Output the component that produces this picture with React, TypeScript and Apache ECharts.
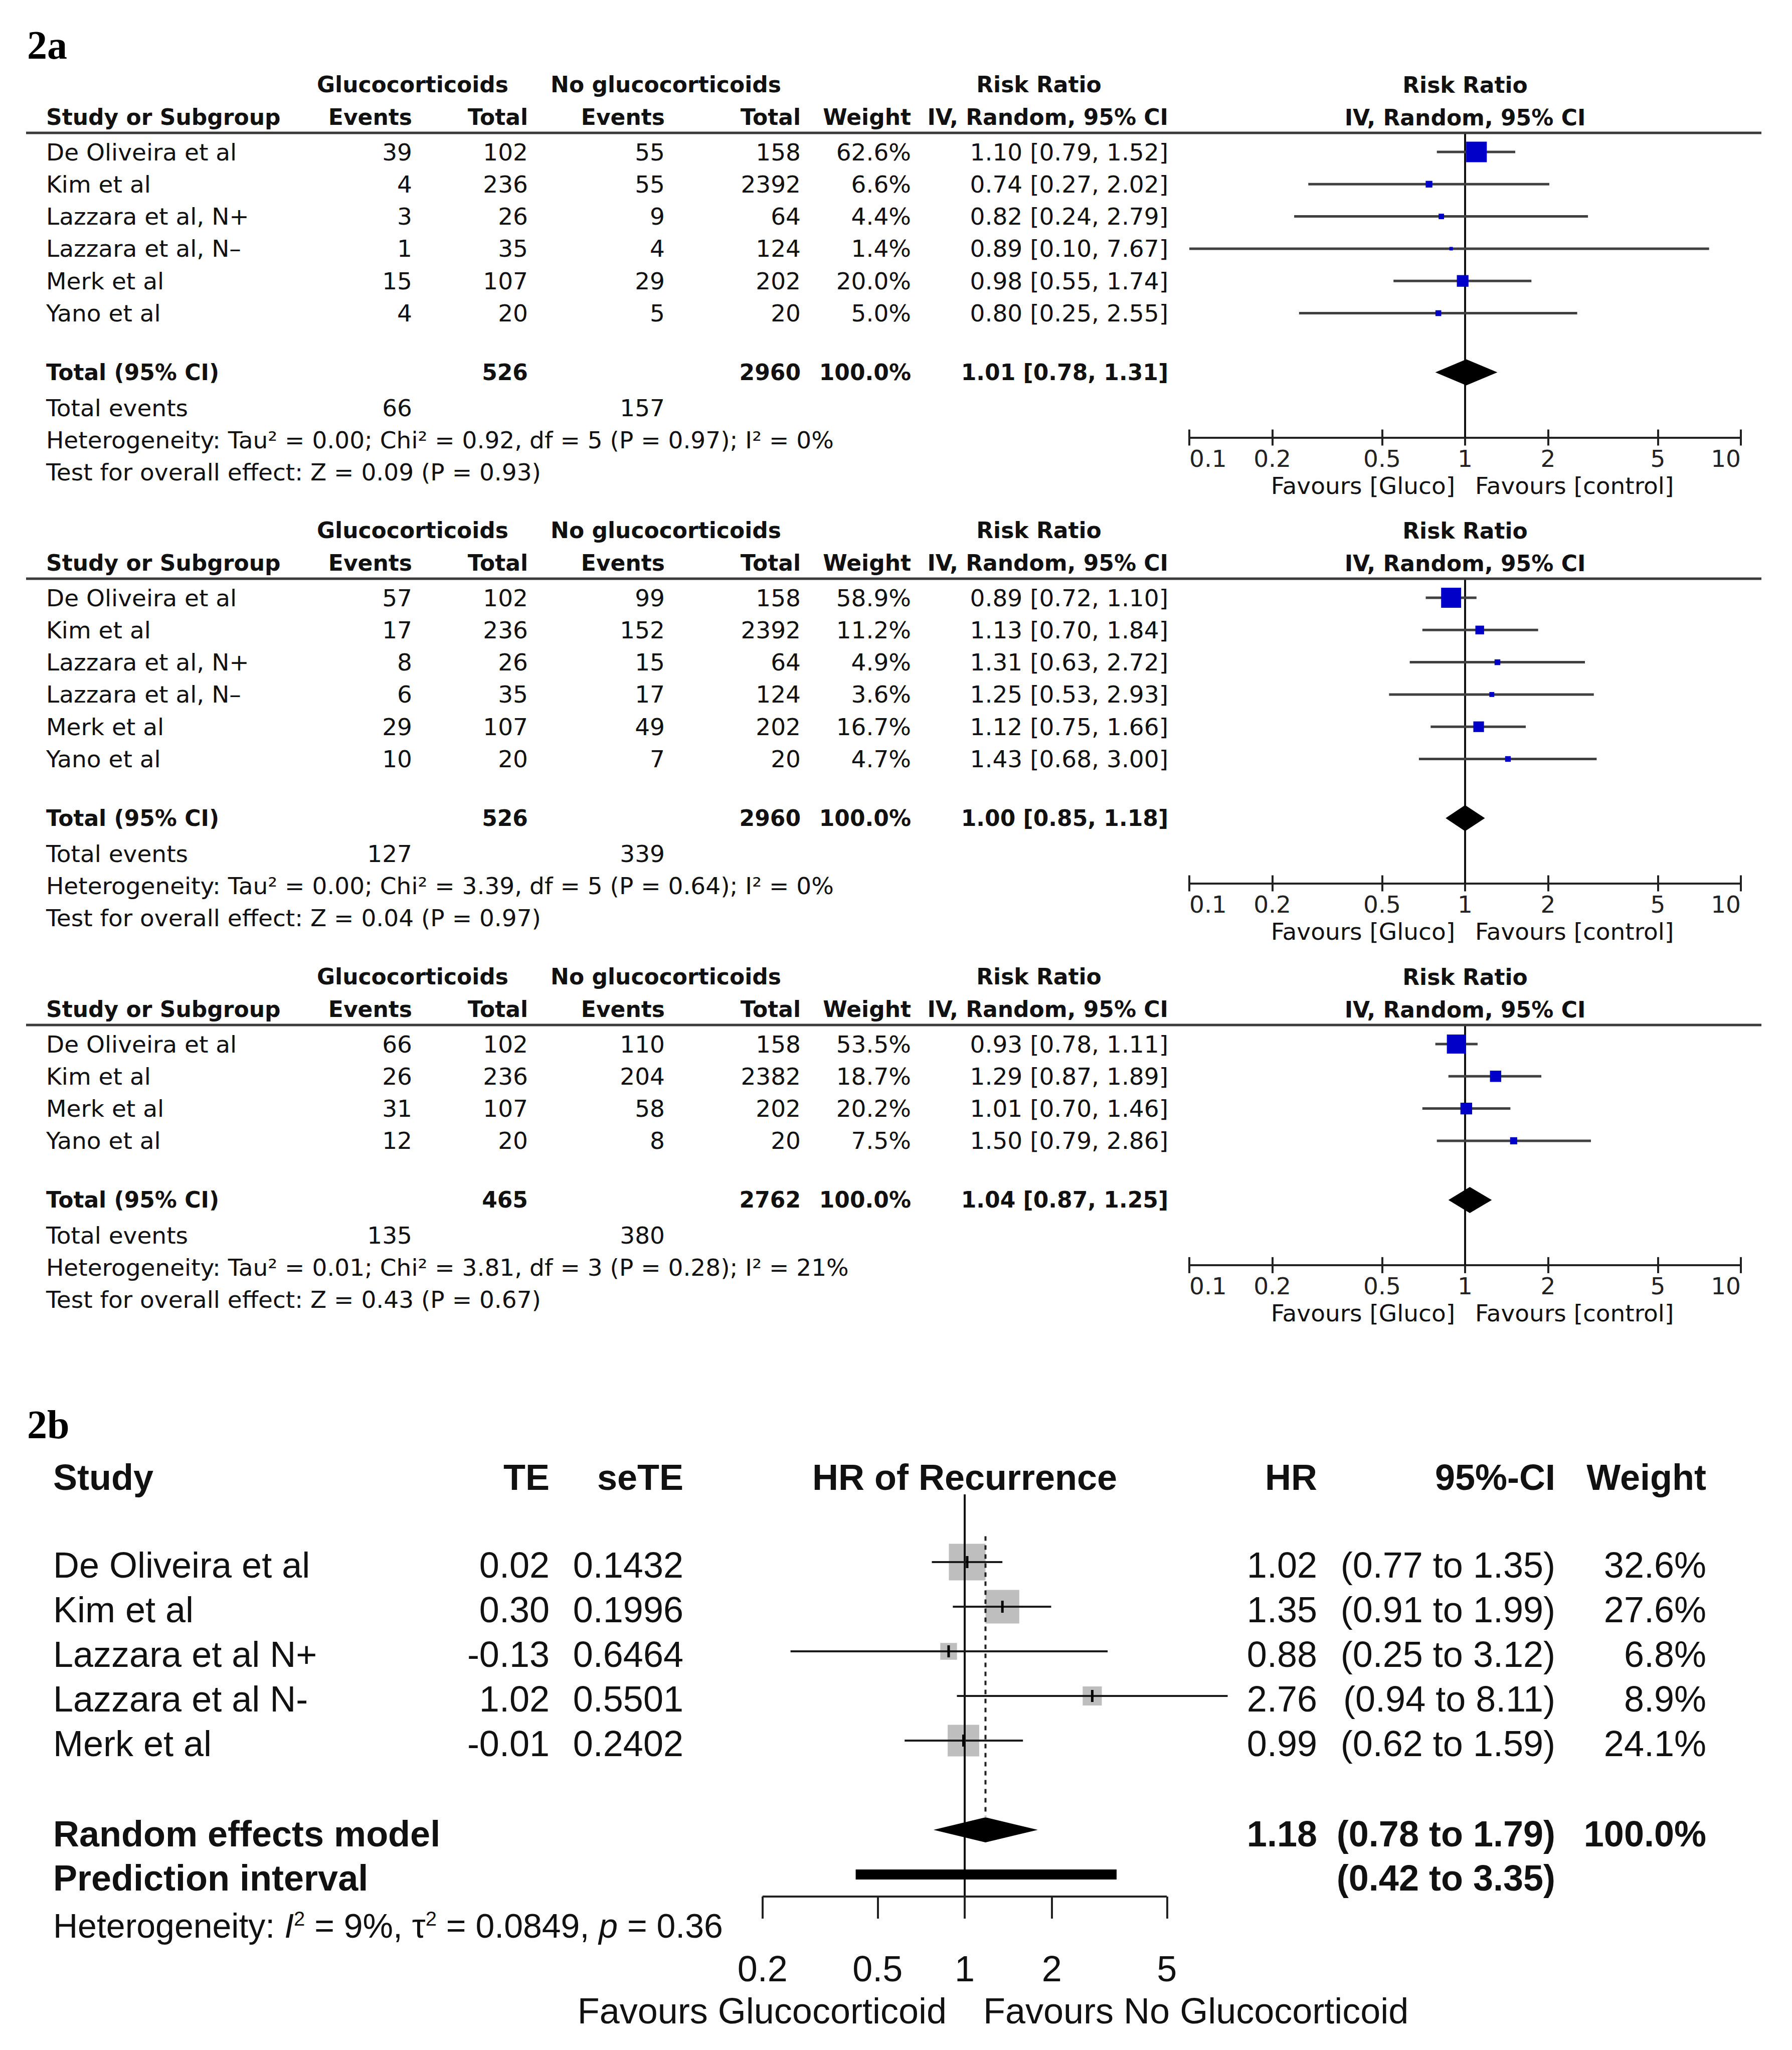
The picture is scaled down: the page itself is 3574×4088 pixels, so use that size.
import React, { useEffect, useRef } from 'react';
import * as echarts from 'echarts';

const W = 3574;
const H = 4088;

// ---------------- 2a : first analysis ----------------
const A1_STUDY = ['De Oliveira et al', 'Kim et al', 'Lazzara et al, N+', 'Lazzara et al, N–', 'Merk et al', 'Yano et al'];
const A1_EV_G = [39, 4, 3, 1, 15, 4];
const A1_TOT_G = [102, 236, 26, 35, 107, 20];
const A1_EV_C = [55, 55, 9, 4, 29, 5];
const A1_TOT_C = [158, 2392, 64, 124, 202, 20];
const A1_WEIGHT = [62.6, 6.6, 4.4, 1.4, 20.0, 5.0];
const A1_RR = [1.10, 0.74, 0.82, 0.89, 0.98, 0.80];
const A1_LO = [0.79, 0.27, 0.24, 0.10, 0.55, 0.25];
const A1_HI = [1.52, 2.02, 2.79, 7.67, 1.74, 2.55];
const A1_TOTALS = [526, 2960];
const A1_POOLED = [1.01, 0.78, 1.31];
const A1_EVENTS = [66, 157];
const A1_HET = ['0.00', '0.92', '5', '0.97', '0%'];
const A1_Z = ['0.09', '0.93'];

// ---------------- 2a : second analysis ----------------
const A2_STUDY = ['De Oliveira et al', 'Kim et al', 'Lazzara et al, N+', 'Lazzara et al, N–', 'Merk et al', 'Yano et al'];
const A2_EV_G = [57, 17, 8, 6, 29, 10];
const A2_TOT_G = [102, 236, 26, 35, 107, 20];
const A2_EV_C = [99, 152, 15, 17, 49, 7];
const A2_TOT_C = [158, 2392, 64, 124, 202, 20];
const A2_WEIGHT = [58.9, 11.2, 4.9, 3.6, 16.7, 4.7];
const A2_RR = [0.89, 1.13, 1.31, 1.25, 1.12, 1.43];
const A2_LO = [0.72, 0.70, 0.63, 0.53, 0.75, 0.68];
const A2_HI = [1.10, 1.84, 2.72, 2.93, 1.66, 3.00];
const A2_TOTALS = [526, 2960];
const A2_POOLED = [1.00, 0.85, 1.18];
const A2_EVENTS = [127, 339];
const A2_HET = ['0.00', '3.39', '5', '0.64', '0%'];
const A2_Z = ['0.04', '0.97'];

// ---------------- 2a : third analysis ----------------
const A3_STUDY = ['De Oliveira et al', 'Kim et al', 'Merk et al', 'Yano et al'];
const A3_EV_G = [66, 26, 31, 12];
const A3_TOT_G = [102, 236, 107, 20];
const A3_EV_C = [110, 204, 58, 8];
const A3_TOT_C = [158, 2382, 202, 20];
const A3_WEIGHT = [53.5, 18.7, 20.2, 7.5];
const A3_RR = [0.93, 1.29, 1.01, 1.50];
const A3_LO = [0.78, 0.87, 0.70, 0.79];
const A3_HI = [1.11, 1.89, 1.46, 2.86];
const A3_TOTALS = [465, 2762];
const A3_POOLED = [1.04, 0.87, 1.25];
const A3_EVENTS = [135, 380];
const A3_HET = ['0.01', '3.81', '3', '0.28', '21%'];
const A3_Z = ['0.43', '0.67'];

const A_TICKS = [0.1, 0.2, 0.5, 1, 2, 5, 10];

// ---------------- 2b ----------------
const B_STUDY = ['De Oliveira et al', 'Kim et al', 'Lazzara et al N+', 'Lazzara et al N-', 'Merk et al'];
const B_TE = [0.02, 0.30, -0.13, 1.02, -0.01];
const B_SETE = [0.1432, 0.1996, 0.6464, 0.5501, 0.2402];
const B_HR = [1.02, 1.35, 0.88, 2.76, 0.99];
const B_LO = [0.77, 0.91, 0.25, 0.94, 0.62];
const B_HI = [1.35, 1.99, 3.12, 8.11, 1.59];
const B_WEIGHT = [32.6, 27.6, 6.8, 8.9, 24.1];
const B_RANDOM = [1.18, 0.78, 1.79];
const B_PRED = [0.42, 3.35];
const B_HET = ['9%', '0.0849', '0.36'];
const B_TICKS = [0.2, 0.5, 1, 2, 5];

const PANELS = [
  { study: A1_STUDY, evG: A1_EV_G, totG: A1_TOT_G, evC: A1_EV_C, totC: A1_TOT_C, w: A1_WEIGHT, rr: A1_RR, lo: A1_LO, hi: A1_HI, totals: A1_TOTALS, pooled: A1_POOLED, events: A1_EVENTS, het: A1_HET, z: A1_Z },
  { study: A2_STUDY, evG: A2_EV_G, totG: A2_TOT_G, evC: A2_EV_C, totC: A2_TOT_C, w: A2_WEIGHT, rr: A2_RR, lo: A2_LO, hi: A2_HI, totals: A2_TOTALS, pooled: A2_POOLED, events: A2_EVENTS, het: A2_HET, z: A2_Z },
  { study: A3_STUDY, evG: A3_EV_G, totG: A3_TOT_G, evC: A3_EV_C, totC: A3_TOT_C, w: A3_WEIGHT, rr: A3_RR, lo: A3_LO, hi: A3_HI, totals: A3_TOTALS, pooled: A3_POOLED, events: A3_EVENTS, het: A3_HET, z: A3_Z },
];

// ---------------- layout ----------------
const FONT_A = '"DejaVu Sans", sans-serif';
const FONT_B = '"Liberation Sans", Arial, sans-serif';
const SERIF = '"Liberation Serif", "Times New Roman", serif';
const TXT = '#111';
const SA = 47; // regular size 2a
const SAB = 44; // bold size 2a
const SB = 72; // size 2b
const PANEL_TOP = [168, 1057, 1947];
const ROW = 64.3;
const FA_X0 = 2372;
const FA_X1 = 3472;
const ONE_X = (FA_X0 + FA_X1) / 2;

const lg = (v: number) => (v === 0.1 ? -1 : v === 10 ? 1 : Math.log10(v));
const fmtTick = (ticks: number[]) => (v: number) => {
  let best = ticks[0];
  for (const t of ticks) if (Math.abs(lg(t) - v) < Math.abs(lg(best) - v)) best = t;
  return String(best);
};

function tx(x: number, y: number, text: string, o: any = {}) {
  const size = o.s ?? SA;
  const fam = o.f ?? FONT_A;
  const align = o.a ?? 'left';
  return {
    type: 'text', x, y, silent: true, z: 10,
    style: {
      text, fill: o.c ?? TXT,
      font: `${o.i ? 'italic ' : ''}${o.b ? 'bold ' : ''}${size}px ${fam}`,
      align, verticalAlign: 'middle', textAlign: align, textVerticalAlign: 'middle',
    },
  };
}

const f2 = (v: number) => v.toFixed(2);

function buildOption() {
  const grid: any[] = [];
  const xAxis: any[] = [];
  const yAxis: any[] = [];
  const series: any[] = [];
  const g: any[] = [];

  g.push(tx(54, 90, '2a', { f: SERIF, b: true, s: 80, c: '#000' }));

  PANELS.forEach((p, k) => {
    const P = PANEL_TOP[k];
    const n = p.study.length;
    const rowY = (v: number) => P + 135 + ROW * v;
    const vTop = -38 / ROW;
    const vTot = n - 1 + 118 / ROW;
    const vAxis = vTot + 130 / ROW;
    const yTot = rowY(vTot);
    const yAx = rowY(vAxis);

    // header
    g.push(tx(823, P, 'Glucocorticoids', { b: true, a: 'center', s: SAB }));
    g.push(tx(1328, P, 'No glucocorticoids', { b: true, a: 'center', s: SAB }));
    g.push(tx(2072, P, 'Risk Ratio', { b: true, a: 'center', s: SAB }));
    g.push(tx(ONE_X, P + 1, 'Risk Ratio', { b: true, a: 'center', s: SAB }));
    const h2 = P + 65;
    g.push(tx(92, h2, 'Study or Subgroup', { b: true, s: SAB }));
    g.push(tx(822, h2, 'Events', { b: true, a: 'right', s: SAB }));
    g.push(tx(1053, h2, 'Total', { b: true, a: 'right', s: SAB }));
    g.push(tx(1326, h2, 'Events', { b: true, a: 'right', s: SAB }));
    g.push(tx(1597, h2, 'Total', { b: true, a: 'right', s: SAB }));
    g.push(tx(1817, h2, 'Weight', { b: true, a: 'right', s: SAB }));
    g.push(tx(2330, h2, 'IV, Random, 95% CI', { b: true, a: 'right', s: SAB }));
    g.push(tx(ONE_X, h2 + 1, 'IV, Random, 95% CI', { b: true, a: 'center', s: SAB }));
    g.push({ type: 'line', silent: true, z: 5, shape: { x1: 52, y1: P + 97, x2: 3513, y2: P + 97 }, style: { stroke: '#3a3a3a', lineWidth: 5 } });

    // study rows
    p.study.forEach((s, i) => {
      const y = rowY(i);
      g.push(tx(92, y, s));
      g.push(tx(822, y, String(p.evG[i]), { a: 'right' }));
      g.push(tx(1053, y, String(p.totG[i]), { a: 'right' }));
      g.push(tx(1326, y, String(p.evC[i]), { a: 'right' }));
      g.push(tx(1597, y, String(p.totC[i]), { a: 'right' }));
      g.push(tx(1817, y, p.w[i].toFixed(1) + '%', { a: 'right' }));
      g.push(tx(2330, y, `${f2(p.rr[i])} [${f2(p.lo[i])}, ${f2(p.hi[i])}]`, { a: 'right' }));
    });

    // totals
    g.push(tx(92, yTot, 'Total (95% CI)', { b: true, s: SAB }));
    g.push(tx(1053, yTot, String(p.totals[0]), { b: true, a: 'right', s: SAB }));
    g.push(tx(1597, yTot, String(p.totals[1]), { b: true, a: 'right', s: SAB }));
    g.push(tx(1817, yTot, '100.0%', { b: true, a: 'right', s: SAB }));
    g.push(tx(2330, yTot, `${f2(p.pooled[0])} [${f2(p.pooled[1])}, ${f2(p.pooled[2])}]`, { b: true, a: 'right', s: SAB }));
    g.push(tx(92, yTot + 71, 'Total events'));
    g.push(tx(822, yTot + 71, String(p.events[0]), { a: 'right' }));
    g.push(tx(1326, yTot + 71, String(p.events[1]), { a: 'right' }));
    g.push(tx(92, yTot + 135, `Heterogeneity: Tau² = ${p.het[0]}; Chi² = ${p.het[1]}, df = ${p.het[2]} (P = ${p.het[3]}); I² = ${p.het[4]}`));
    g.push(tx(92, yTot + 199, `Test for overall effect: Z = ${p.z[0]} (P = ${p.z[1]})`));
    g.push(tx(ONE_X - 20, yAx + 96, 'Favours [Gluco]', { a: 'right' }));
    g.push(tx(ONE_X + 20, yAx + 96, 'Favours [control]', { a: 'left' }));

    // forest
    grid.push({ left: FA_X0, width: FA_X1 - FA_X0, top: P + 97, height: (vAxis - vTop) * ROW });
    yAxis.push({ type: 'value', gridIndex: k, min: vTop, max: vAxis, inverse: true, show: false });
    const ticks = A_TICKS.map(lg);
    xAxis.push({
      type: 'value', gridIndex: k, min: -1, max: 1, position: 'bottom',
      axisLine: { show: true, onZero: false, lineStyle: { color: '#222', width: 4 } },
      axisTick: { show: true, customValues: ticks, length: 16, lineStyle: { color: '#222', width: 4 } },
      axisLabel: {
        show: true, customValues: ticks, formatter: fmtTick(A_TICKS), margin: 18,
        fontFamily: FONT_A, fontSize: SA, color: '#222', alignMinLabel: 'left', alignMaxLabel: 'right',
      },
      splitLine: { show: false },
    });
    xAxis.push({
      type: 'value', gridIndex: k, min: -1, max: 1, position: 'bottom',
      axisLine: { show: false, onZero: false },
      axisTick: { show: true, inside: true, customValues: ticks, length: 16, lineStyle: { color: '#222', width: 4 } },
      axisLabel: { show: false },
      splitLine: { show: false },
    });

    series.push({
      type: 'line', xAxisIndex: 2 * k, yAxisIndex: k, silent: true, clip: false, z: 1,
      symbol: 'none', lineStyle: { color: '#111', width: 4 },
      data: [[0, vTop], [0, vAxis]],
    });
    series.push({
      type: 'custom', xAxisIndex: 2 * k, yAxisIndex: k, silent: true, clip: false, z: 2,
      encode: { x: [0, 1, 2], y: 3 },
      data: p.study.map((_, i) => [lg(p.rr[i]), lg(p.lo[i]), lg(p.hi[i]), i, p.w[i]]),
      renderItem: (_params: any, api: any) => {
        const y = api.value(3);
        const c = api.coord([api.value(0), y]);
        const l = api.coord([api.value(1), y]);
        const h = api.coord([api.value(2), y]);
        const s = Math.max(7, 5.2 * Math.sqrt(api.value(4)));
        return {
          type: 'group',
          children: [
            { type: 'line', shape: { x1: l[0], y1: l[1], x2: h[0], y2: h[1] }, style: { stroke: '#404040', lineWidth: 5 } },
            { type: 'rect', shape: { x: c[0] - s / 2, y: c[1] - s / 2, width: s, height: s }, style: { fill: '#0000C8' } },
          ],
        };
      },
    });
    series.push({
      type: 'custom', xAxisIndex: 2 * k, yAxisIndex: k, silent: true, clip: false, z: 3,
      encode: { x: [0, 1, 2], y: 3 },
      data: [[lg(p.pooled[0]), lg(p.pooled[1]), lg(p.pooled[2]), vTot]],
      renderItem: (_params: any, api: any) => {
        const y = api.value(3);
        const c = api.coord([api.value(0), y]);
        const l = api.coord([api.value(1), y]);
        const h = api.coord([api.value(2), y]);
        const hh = 26;
        return {
          type: 'polygon',
          shape: { points: [[l[0], c[1]], [c[0], c[1] - hh], [h[0], c[1]], [c[0], c[1] + hh]] },
          style: { fill: '#000' },
        };
      },
    });
  });

  // ---------------- 2b ----------------
  g.push(tx(54, 2841, '2b', { f: SERIF, b: true, s: 80, c: '#000' }));
  const bRow = (v: number) => 3115 + 89 * v;
  const bTop = (2980 - 3115) / 89;
  const bBot = (3782 - 3115) / 89;
  const hy = 2946;
  g.push(tx(106, hy, 'Study', { f: FONT_B, s: SB, b: true }));
  g.push(tx(1096, hy, 'TE', { f: FONT_B, s: SB, b: true, a: 'right' }));
  g.push(tx(1363, hy, 'seTE', { f: FONT_B, s: SB, b: true, a: 'right' }));
  g.push(tx(1924, hy, 'HR of Recurrence', { f: FONT_B, s: SB, b: true, a: 'center' }));
  g.push(tx(2627, hy, 'HR', { f: FONT_B, s: SB, b: true, a: 'right' }));
  g.push(tx(3102, hy, '95%-CI', { f: FONT_B, s: SB, b: true, a: 'right' }));
  g.push(tx(3403, hy, 'Weight', { f: FONT_B, s: SB, b: true, a: 'right' }));
  B_STUDY.forEach((s, i) => {
    const y = bRow(i) + 6;
    g.push(tx(106, y, s, { f: FONT_B, s: SB }));
    g.push(tx(1096, y, B_TE[i].toFixed(2), { f: FONT_B, s: SB, a: 'right' }));
    g.push(tx(1363, y, B_SETE[i].toFixed(4), { f: FONT_B, s: SB, a: 'right' }));
    g.push(tx(2627, y, f2(B_HR[i]), { f: FONT_B, s: SB, a: 'right' }));
    g.push(tx(3102, y, `(${f2(B_LO[i])} to ${f2(B_HI[i])})`, { f: FONT_B, s: SB, a: 'right' }));
    g.push(tx(3403, y, B_WEIGHT[i].toFixed(1) + '%', { f: FONT_B, s: SB, a: 'right' }));
  });
  const yRe = bRow(6) + 8;
  const yPi = bRow(7) + 7;
  g.push(tx(106, yRe, 'Random effects model', { f: FONT_B, s: SB, b: true }));
  g.push(tx(2627, yRe, f2(B_RANDOM[0]), { f: FONT_B, s: SB, b: true, a: 'right' }));
  g.push(tx(3102, yRe, `(${f2(B_RANDOM[1])} to ${f2(B_RANDOM[2])})`, { f: FONT_B, s: SB, b: true, a: 'right' }));
  g.push(tx(3403, yRe, '100.0%', { f: FONT_B, s: SB, b: true, a: 'right' }));
  g.push(tx(106, yPi, 'Prediction interval', { f: FONT_B, s: SB, b: true }));
  g.push(tx(3102, yPi, `(${f2(B_PRED[0])} to ${f2(B_PRED[1])})`, { f: FONT_B, s: SB, b: true, a: 'right' }));
  const SH = 68;
  g.push({
    type: 'text', x: 106, y: 3840, silent: true, z: 10,
    style: {
      text: `Heterogeneity: {it|I}{sup|2} = ${B_HET[0]}, τ{sup|2} = ${B_HET[1]}, {it|p} = ${B_HET[2]}`,
      fontSize: SH, fontFamily: FONT_B, fill: TXT,
      align: 'left', verticalAlign: 'middle', textAlign: 'left', textVerticalAlign: 'middle',
      rich: {
        it: { fontStyle: 'italic', fontSize: SH, fontFamily: FONT_B, fill: TXT },
        sup: { fontSize: 40, fontFamily: FONT_B, fill: TXT, verticalAlign: 'top' },
      },
    },
  });
  g.push(tx(1888, 4010, 'Favours Glucocorticoid', { f: FONT_B, s: SB, a: 'right' }));
  g.push(tx(1961, 4010, 'Favours No Glucocorticoid', { f: FONT_B, s: SB, a: 'left' }));

  grid.push({ left: 1924 - 577, width: 577 * 2, top: 2980, height: 3782 - 2980 });
  yAxis.push({ type: 'value', gridIndex: 3, min: bTop, max: bBot, inverse: true, show: false });
  const bt = B_TICKS.map(lg);
  xAxis.push({
    type: 'value', gridIndex: 3, min: -1, max: 1, position: 'bottom',
    axisLine: { show: false, onZero: false },
    axisTick: { show: true, customValues: bt, length: 44, lineStyle: { color: '#222', width: 4 } },
    axisLabel: { show: true, customValues: bt, formatter: fmtTick(B_TICKS), margin: 108, fontFamily: FONT_B, fontSize: SB, color: TXT },
    splitLine: { show: false },
  });
  const XB = 6;
  series.push({
    type: 'custom', xAxisIndex: XB, yAxisIndex: 3, silent: true, clip: false, z: 1,
    encode: { x: 0, y: 1 },
    data: B_STUDY.map((_, i) => [lg(B_HR[i]), i, B_WEIGHT[i]]),
    renderItem: (_params: any, api: any) => {
      const c = api.coord([api.value(0), api.value(1)]);
      const s = 12.8 * Math.sqrt(api.value(2));
      return { type: 'rect', shape: { x: c[0] - s / 2, y: c[1] - s / 2, width: s, height: s }, style: { fill: '#BEBEBE' } };
    },
  });
  series.push({
    type: 'line', xAxisIndex: XB, yAxisIndex: 3, silent: true, clip: false, z: 2,
    symbol: 'none', lineStyle: { color: '#111', width: 4 },
    data: [[0, bTop], [0, bBot]],
  });
  series.push({
    type: 'line', xAxisIndex: XB, yAxisIndex: 3, silent: true, clip: false, z: 2,
    symbol: 'none', lineStyle: { color: '#222', width: 4, type: [9, 9] },
    data: [[lg(B_RANDOM[0]), -0.58], [lg(B_RANDOM[0]), 5.7]],
  });
  series.push({
    type: 'line', xAxisIndex: XB, yAxisIndex: 3, silent: true, clip: false, z: 2,
    symbol: 'none', lineStyle: { color: '#222', width: 4 },
    data: [[lg(B_TICKS[0]), bBot], [lg(B_TICKS[B_TICKS.length - 1]), bBot]],
  });
  series.push({
    type: 'custom', xAxisIndex: XB, yAxisIndex: 3, silent: true, clip: false, z: 3,
    encode: { x: [0, 1, 2], y: 3 },
    data: B_STUDY.map((_, i) => [lg(B_HR[i]), lg(B_LO[i]), lg(B_HI[i]), i]),
    renderItem: (_params: any, api: any) => {
      const y = api.value(3);
      const c = api.coord([api.value(0), y]);
      const l = api.coord([api.value(1), y]);
      const h = api.coord([api.value(2), y]);
      return {
        type: 'group',
        children: [
          { type: 'line', shape: { x1: l[0], y1: l[1], x2: h[0], y2: h[1] }, style: { stroke: '#1a1a1a', lineWidth: 4 } },
          { type: 'line', shape: { x1: c[0], y1: c[1] - 12, x2: c[0], y2: c[1] + 12 }, style: { stroke: '#000', lineWidth: 5 } },
        ],
      };
    },
  });
  series.push({
    type: 'custom', xAxisIndex: XB, yAxisIndex: 3, silent: true, clip: false, z: 3,
    encode: { x: [0, 1, 2], y: 3 },
    data: [[lg(B_RANDOM[0]), lg(B_RANDOM[1]), lg(B_RANDOM[2]), 6]],
    renderItem: (_params: any, api: any) => {
      const y = api.value(3);
      const c = api.coord([api.value(0), y]);
      const l = api.coord([api.value(1), y]);
      const h = api.coord([api.value(2), y]);
      const hh = 25;
      return {
        type: 'polygon',
        shape: { points: [[l[0], c[1]], [c[0], c[1] - hh], [h[0], c[1]], [c[0], c[1] + hh]] },
        style: { fill: '#000' },
      };
    },
  });
  series.push({
    type: 'custom', xAxisIndex: XB, yAxisIndex: 3, silent: true, clip: false, z: 3,
    encode: { x: [0, 1], y: 2 },
    data: [[lg(B_PRED[0]), lg(B_PRED[1]), 7]],
    renderItem: (_params: any, api: any) => {
      const y = api.value(2);
      const l = api.coord([api.value(0), y]);
      const h = api.coord([api.value(1), y]);
      const hh = 10;
      return { type: 'rect', shape: { x: l[0], y: l[1] - hh, width: h[0] - l[0], height: 2 * hh }, style: { fill: '#000' } };
    },
  });

  return {
    animation: false,
    backgroundColor: '#fff',
    grid, xAxis, yAxis, series,
    graphic: { elements: g },
  };
}

export default function App() {
  const ref = useRef<HTMLDivElement>(null);
  useEffect(() => {
    document.body.style.margin = '0';
    const chart = echarts.init(ref.current as HTMLDivElement, undefined, { renderer: 'svg', width: W, height: H });
    chart.setOption(buildOption() as any);
    return () => chart.dispose();
  }, []);
  return <div ref={ref} style={{ width: W, height: H, background: '#fff', position: 'absolute', left: 0, top: 0 }} />;
}
